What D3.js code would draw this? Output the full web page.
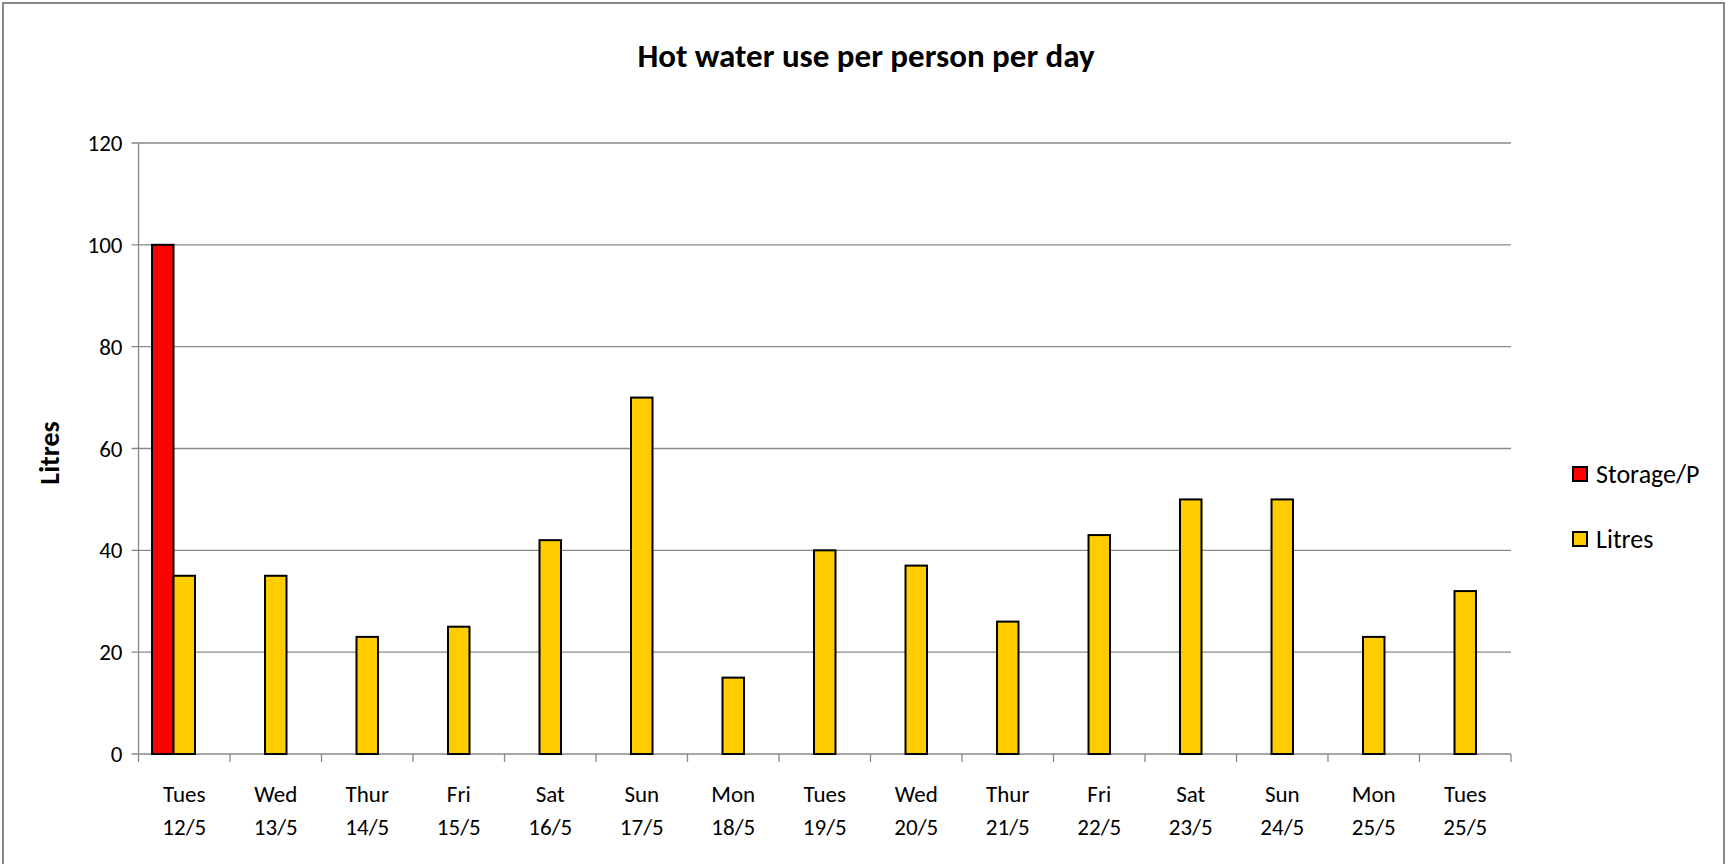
<!DOCTYPE html>
<html>
<head>
<meta charset="utf-8">
<script src="https://cdn.jsdelivr.net/npm/d3@7"></script>
<style>
  body { margin: 0; background: #fff; }
  svg { display: block; font-family: Carlito, Calibri, Lato, sans-serif; }
</style>
</head>
<body>
<svg class="chart"></svg>
<script>
var days = ["Tues", "Wed", "Thur", "Fri", "Sat", "Sun", "Mon", "Tues", "Wed", "Thur", "Fri", "Sat", "Sun", "Mon", "Tues"]
var dates = ["12/5", "13/5", "14/5", "15/5", "16/5", "17/5", "18/5", "19/5", "20/5", "21/5", "22/5", "23/5", "24/5", "25/5", "25/5"]
var storage = [100, null, null, null, null, null, null, null, null, null, null, null, null, null, null]
var litres = [35, 35, 23, 25, 42, 70, 15, 40, 37, 26, 43, 50, 50, 23, 32]
var yTicks = [0, 20, 40, 60, 80, 100, 120]
var seriesNames = ["Storage/P", "Litres"]
var seriesColors = ["#ff0000", "#ffcc00"]

var width = 1734;
var height = 864;
var svg = d3.select(".chart").attr("width", width).attr("height", height)

// outer chart border (bottom runs off the picture)
svg.append("rect")
    .attr("x", 3).attr("y", 3)
    .attr("width", 1721).attr("height", 900)
    .attr("fill", "none").attr("stroke", "#888").attr("stroke-width", 2);

var plotLeft = 138.5, plotRight = 1511, plotTop = 143, plotBottom = 754;
var idx = d3.range(days.length);

var x = d3.scaleBand().domain(idx).range([plotLeft, plotRight]);
// three slots per day: red on the left, yellow in the middle, one empty
var x1 = d3.scaleBand().domain([0, 1, 2]).range([0, x.bandwidth()]).paddingOuter(0.63);
var y = d3.scaleLinear().domain([0, 120]).range([plotBottom, plotTop]);

// gridlines
svg.append("g").selectAll("line").data(yTicks).join("line")
    .attr("x1", plotLeft - 7).attr("x2", plotRight)
    .attr("y1", function(d){return y(d)}).attr("y2", function(d){return y(d)})
    .attr("stroke", "#888").attr("stroke-width", 1.3);

// y axis line
svg.append("line")
    .attr("x1", plotLeft).attr("x2", plotLeft).attr("y1", plotTop).attr("y2", plotBottom)
    .attr("stroke", "#888").attr("stroke-width", 1.3);

// x ticks at category boundaries
var bounds = idx.map(function(i){return x(i)}).concat([plotRight]);
svg.append("g").selectAll("line").data(bounds).join("line")
    .attr("x1", function(d){return d}).attr("x2", function(d){return d})
    .attr("y1", plotBottom).attr("y2", plotBottom + 8)
    .attr("stroke", "#888").attr("stroke-width", 1.3);

// y labels
svg.append("g").selectAll("text").data(yTicks).join("text")
    .attr("x", plotLeft - 16).attr("y", function(d){return y(d)})
    .attr("dy", "0.35em").attr("text-anchor", "end")
    .attr("font-size", 23).text(function(d){return d});

// bars
var series = [storage, litres];
series.forEach(function(vals, s){
  svg.append("g").selectAll("rect")
      .data(idx.filter(function(i){return vals[i] != null}))
      .join("rect")
      .attr("x", function(i){return x(i) + x1(s)})
      .attr("width", x1.bandwidth())
      .attr("y", function(i){return y(vals[i])})
      .attr("height", function(i){return y(0) - y(vals[i])})
      .attr("fill", seriesColors[s])
      .attr("stroke", "#000").attr("stroke-width", 2);
});

// x labels
var xl = svg.append("g").selectAll("text").data(idx).join("text")
    .attr("x", function(i){return x(i) + x.bandwidth() / 2})
    .attr("text-anchor", "middle").attr("font-size", 23);
xl.append("tspan").attr("x", function(i){return x(i) + x.bandwidth() / 2})
    .attr("y", 802).text(function(i){return days[i]});
xl.append("tspan").attr("x", function(i){return x(i) + x.bandwidth() / 2})
    .attr("y", 835).text(function(i){return dates[i]});

// title
svg.append("text")
    .attr("x", 866).attr("y", 67)
    .attr("text-anchor", "middle").attr("font-size", 33).attr("font-weight", "bold")
    .text("Hot water use per person per day");

// y axis title
svg.append("text")
    .attr("transform", "translate(59,453) rotate(-90)")
    .attr("text-anchor", "middle").attr("font-size", 28).attr("font-weight", "bold")
    .text("Litres");

// legend
var legend = svg.append("g").selectAll("g").data(seriesNames).join("g")
    .attr("transform", function(d, i){return "translate(1573," + (467 + i * 65) + ")"});
legend.append("rect")
    .attr("width", 14).attr("height", 14)
    .attr("fill", function(d, i){return seriesColors[i]})
    .attr("stroke", "#000").attr("stroke-width", 2);
legend.append("text")
    .attr("x", 23).attr("y", 7).attr("dy", "0.35em")
    .attr("font-size", 26).text(function(d){return d});
</script>
</body>
</html>
